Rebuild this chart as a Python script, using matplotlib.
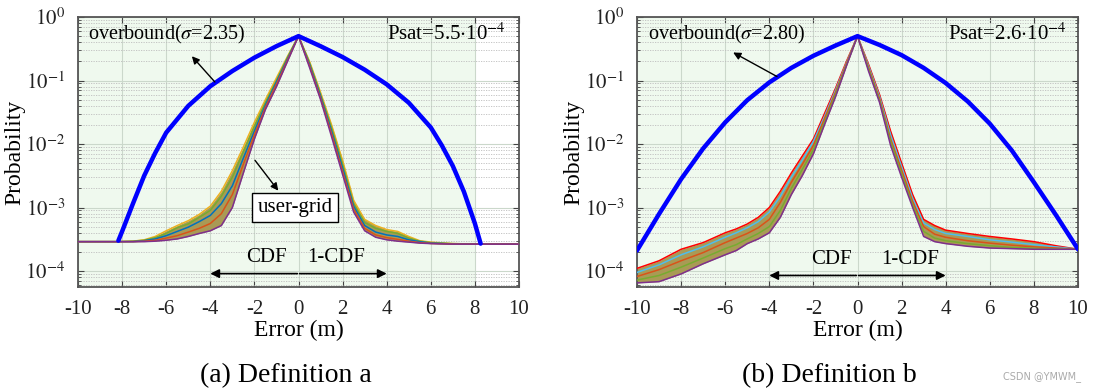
import numpy as np
import matplotlib.pyplot as plt

plt.rcParams['font.family'] = ['Liberation Serif', 'DejaVu Serif']
plt.rcParams['mathtext.fontset'] = 'stix'

# ---------------- data ----------------
# (a) Definition a : overbound (blue)
ob_a_x = [-8.17, -8, -7.5, -7, -6.5, -6, -5, -4, -3, -2, -1, 0,
          1, 2, 3, 4, 5, 6, 6.5, 7, 7.5, 8, 8.26]
ob_a_y = [3.0e-4, 4.2e-4, 1.17e-3, 3.16e-3, 7.2e-3, 0.0151, 0.0398, 0.0813, 0.141, 0.229, 0.347, 0.5,
          0.347, 0.234, 0.148, 0.087, 0.0447, 0.0182, 9.5e-3, 4.5e-3, 1.78e-3, 5.6e-4, 2.7e-4]

# (a) user-grid curves
ug_a_x = [-10, -8.2, -7.5, -7, -6.5, -6, -5.5, -5, -4.5, -4, -3.5, -3, -2.5, -2, -1.5, -1, -0.5, 0,
          0.5, 1, 1.5, 2, 2.5, 3, 3.5, 4, 4.5, 5, 5.5, 6, 7, 8.3, 10]
ug_a_1 = [2.9e-4, 2.9e-4, 2.95e-4, 3.1e-4, 3.5e-4, 4.3e-4, 5.2e-4, 6.2e-4, 7.8e-4, 1.05e-3, 1.8e-3, 3.8e-3, 9e-3, 0.022, 0.05, 0.11, 0.24, 0.5,
          0.2, 0.065, 0.02, 5.5e-3, 1.3e-3, 6.5e-4, 5.2e-4, 4.5e-4, 4.2e-4, 3.5e-4, 3.0e-4, 2.85e-4, 2.7e-4, 2.65e-4, 2.65e-4]
ug_a_2 = [2.9e-4, 2.9e-4, 2.95e-4, 3.05e-4, 3.35e-4, 3.9e-4, 4.8e-4, 5.5e-4, 7.0e-4, 9.0e-4, 1.5e-3, 3.0e-3, 7.5e-3, 0.019, 0.045, 0.1, 0.23, 0.5,
          0.19, 0.06, 0.018, 4.8e-3, 1.15e-3, 5.8e-4, 4.7e-4, 4.2e-4, 3.9e-4, 3.3e-4, 2.95e-4, 2.8e-4, 2.7e-4, 2.65e-4, 2.65e-4]
ug_a_3 = [2.9e-4, 2.9e-4, 2.9e-4, 3.0e-4, 3.2e-4, 3.6e-4, 4.2e-4, 4.9e-4, 6.0e-4, 7.5e-4, 1.15e-3, 2.2e-3, 6e-3, 0.016, 0.041, 0.095, 0.22, 0.5,
          0.18, 0.057, 0.016, 4.2e-3, 1.05e-3, 5.2e-4, 4.1e-4, 3.7e-4, 3.5e-4, 3.1e-4, 2.9e-4, 2.75e-4, 2.67e-4, 2.65e-4, 2.65e-4]
ug_a_4 = [2.9e-4, 2.9e-4, 2.9e-4, 2.95e-4, 3.05e-4, 3.3e-4, 3.6e-4, 4.1e-4, 4.7e-4, 5.6e-4, 8.0e-4, 1.6e-3, 4.8e-3, 0.014, 0.038, 0.088, 0.21, 0.5,
          0.17, 0.053, 0.0145, 3.7e-3, 9.5e-4, 4.7e-4, 3.7e-4, 3.35e-4, 3.15e-4, 2.95e-4, 2.8e-4, 2.72e-4, 2.66e-4, 2.65e-4, 2.65e-4]
ug_a_5 = [2.9e-4, 2.9e-4, 2.9e-4, 2.9e-4, 2.95e-4, 3.05e-4, 3.2e-4, 3.5e-4, 3.9e-4, 4.3e-4, 5.2e-4, 1.0e-3, 3.5e-3, 0.012, 0.035, 0.08, 0.2, 0.5,
          0.16, 0.05, 0.013, 3.3e-3, 8.5e-4, 4.3e-4, 3.4e-4, 3.1e-4, 2.95e-4, 2.85e-4, 2.75e-4, 2.7e-4, 2.65e-4, 2.65e-4, 2.65e-4]

# (b) Definition b : overbound (blue)
ob_b_x = [-10, -9, -8, -7, -6, -5, -4, -3, -2, -1, 0,
          1, 2, 3, 4, 5, 6, 7, 8, 9, 10]
ob_b_y = [2.1e-4, 7.9e-4, 2.8e-3, 8.5e-3, 0.0219, 0.049, 0.0933, 0.158, 0.245, 0.355, 0.5,
          0.363, 0.251, 0.158, 0.0912, 0.0468, 0.0209, 7.9e-3, 2.5e-3, 7.6e-4, 2.2e-4]

# (b) user-grid curves
ug_b_x = [-10, -9, -8, -7, -6, -5.5, -5, -4.5, -4, -3.5, -3, -2.5, -2, -1.5, -1, -0.5, 0,
          0.5, 1, 1.5, 2, 2.5, 3, 3.5, 4, 5, 6, 7, 8, 9, 10]
ug_b_1 = [1.1e-4, 1.45e-4, 2.2e-4, 2.8e-4, 4.0e-4, 4.6e-4, 5.5e-4, 7.0e-4, 1.0e-3, 1.8e-3, 3.5e-3, 6.5e-3, 0.012, 0.03, 0.075, 0.2, 0.5,
          0.18, 0.06, 0.016, 5e-3, 1.6e-3, 6.5e-4, 5.2e-4, 4.4e-4, 3.9e-4, 3.5e-4, 3.2e-4, 2.9e-4, 2.5e-4, 2.2e-4]
ug_b_2 = [9.5e-5, 1.25e-4, 1.8e-4, 2.4e-4, 3.4e-4, 4.0e-4, 4.8e-4, 6.0e-4, 8.5e-4, 1.5e-3, 3.0e-3, 5.6e-3, 0.011, 0.027, 0.07, 0.19, 0.5,
          0.17, 0.056, 0.014, 4.4e-3, 1.4e-3, 5.7e-4, 4.5e-4, 3.9e-4, 3.5e-4, 3.1e-4, 2.85e-4, 2.6e-4, 2.4e-4, 2.2e-4]
ug_b_3 = [8.2e-5, 1.05e-4, 1.45e-4, 1.95e-4, 2.8e-4, 3.3e-4, 3.9e-4, 4.8e-4, 6.5e-4, 1.2e-3, 2.5e-3, 4.8e-3, 9.5e-3, 0.025, 0.065, 0.185, 0.5,
          0.16, 0.052, 0.012, 3.9e-3, 1.25e-3, 5.0e-4, 3.8e-4, 3.4e-4, 3.0e-4, 2.75e-4, 2.55e-4, 2.4e-4, 2.3e-4, 2.2e-4]
ug_b_4 = [7.2e-5, 8.5e-5, 1.15e-4, 1.6e-4, 2.25e-4, 2.6e-4, 3.2e-4, 3.9e-4, 5.0e-4, 9.0e-4, 2.0e-3, 4.0e-3, 8.2e-3, 0.022, 0.06, 0.175, 0.5,
          0.15, 0.048, 0.011, 3.4e-3, 1.1e-3, 4.2e-4, 3.3e-4, 3.0e-4, 2.7e-4, 2.5e-4, 2.35e-4, 2.28e-4, 2.22e-4, 2.2e-4]
ug_b_5 = [6.5e-5, 6.8e-5, 9.0e-5, 1.3e-4, 1.8e-4, 2.1e-4, 2.7e-4, 3.2e-4, 4.0e-4, 7.0e-4, 1.6e-3, 3.2e-3, 7e-3, 0.02, 0.055, 0.17, 0.5,
          0.14, 0.045, 0.0095, 3e-3, 1e-3, 3.5e-4, 2.9e-4, 2.7e-4, 2.45e-4, 2.3e-4, 2.25e-4, 2.2e-4, 2.2e-4, 2.2e-4]

xticks = [-10, -8, -6, -4, -2, 0, 2, 4, 6, 8, 10]
yticks = [1e-4, 1e-3, 1e-2, 1e-1, 1]
ylabels = ['$10^{-4}$', '$10^{-3}$', '$10^{-2}$', '$10^{-1}$', '$10^{0}$']

ug_cols_a = ['#EDB120', '#77AC30', '#0072BD', '#D95319', '#7E2F8E']
ug_cols_b = ['#FF0000', '#4DBEEE', '#D95319', '#77AC30', '#7E2F8E']

panels = [
    dict(ob_x=ob_a_x, ob_y=ob_a_y, ug_x=ug_a_x, ug=[ug_a_1, ug_a_2, ug_a_3, ug_a_4, ug_a_5], cols=ug_cols_a,
         green=8.05, sig='2.35', psat='5.5', ob_arrow=((-3.71, 0.088), (-4.92, 0.26)),
         ob_text=-9.55, psat_x=9.41, ug_arrow=((-2.05, 6.0e-3), (-0.84, 1.7e-3)), ug_box=(-0.15, 1.0e-3),
         cdf_x=-1.45, icdf_x=1.7, arr_y=9.1e-5, cap='(a) Definition a', cap_x=286),
    dict(ob_x=ob_b_x, ob_y=ob_b_y, ug_x=ug_b_x, ug=[ug_b_1, ug_b_2, ug_b_3, ug_b_4, ug_b_5], cols=ug_cols_b,
         green=10, sig='2.80', psat='2.6', ob_arrow=((-3.54, 0.11), (-5.75, 0.29)),
         ob_text=-9.5, psat_x=9.49, ug_arrow=None, ug_box=None,
         cdf_x=-1.2, icdf_x=2.4, arr_y=8.5e-5, cap='(b) Definition b', cap_x=829),
]

W, H = 1097, 392
fig = plt.figure(figsize=(W / 100, H / 100), dpi=100)
lefts = [78, 637]

for p, left in zip(panels, lefts):
    ax = fig.add_axes([left / W, 1 - 287 / H, 441 / W, 270 / H])
    ax.set_yscale('log')
    ax.set_xlim(-10, 10)
    ax.set_ylim(5.6e-5, 1)
    ax.axvspan(-10, p['green'], color='#eff9ee', zorder=0, lw=0)

    ax.set_xticks(xticks)
    ax.set_xticklabels([str(t) for t in xticks])
    ax.set_yticks(yticks)
    ax.set_yticklabels(ylabels)
    ax.grid(True, which='major', color='#cbd8cb', lw=0.8, zorder=1)
    ax.grid(True, which='minor', axis='y', color='#bdbdbd', lw=0.6, ls=(0, (1.5, 1.5)), zorder=1)
    ax.tick_params(which='both', direction='in', top=True, right=True, labelsize=15,
                   colors='#444444', labelcolor='#222222')
    ax.tick_params(which='major', length=4, pad=9)
    ax.tick_params(which='minor', length=2)
    for s in ax.spines.values():
        s.set_color('#555555')
        s.set_linewidth(1.3)

    # user-grid bundle
    ax.fill_between(p['ug_x'], p['ug'][0], p['ug'][-1], color='#a99a55', lw=0, zorder=2)
    for y, c in zip(p['ug'], p['cols']):
        ax.plot(p['ug_x'], y, color=c, lw=1.1, zorder=3)

    # overbound
    ax.plot(p['ob_x'], p['ob_y'], color='#0000ff', lw=3.2, zorder=4, solid_capstyle='round')

    ax.text(p['ob_text'], 0.53, 'overbound($\\sigma$=' + p['sig'] + ')',
            fontsize=14.5, va='center', ha='left', zorder=6)
    ax.annotate('', xy=p['ob_arrow'][1], xytext=p['ob_arrow'][0],
                arrowprops=dict(arrowstyle='-|>', color='black', lw=1.0, mutation_scale=11), zorder=6)
    ax.text(p['psat_x'], 0.53, 'Psat=' + p['psat'] + '$\\cdot$10$^{-4}$', fontsize=15,
            va='center', ha='right', zorder=6)

    if p['ug_arrow'] is not None:
        ax.annotate('', xy=p['ug_arrow'][1], xytext=p['ug_arrow'][0],
                    arrowprops=dict(arrowstyle='-|>', color='black', lw=1.0, mutation_scale=11), zorder=6)
        ax.text(p['ug_box'][0], p['ug_box'][1], 'user-grid', fontsize=15, ha='center', va='center', zorder=6,
                bbox=dict(boxstyle='square,pad=0.25', fc='white', ec='black', lw=1.0))

    ax.annotate('', xy=(-4, p['arr_y']), xytext=(-0.05, p['arr_y']),
                arrowprops=dict(arrowstyle='-|>', color='black', lw=1.2, mutation_scale=13,
                                shrinkA=0, shrinkB=0), zorder=6)
    ax.annotate('', xy=(4, p['arr_y']), xytext=(0.05, p['arr_y']),
                arrowprops=dict(arrowstyle='-|>', color='black', lw=1.2, mutation_scale=13,
                                shrinkA=0, shrinkB=0), zorder=6)
    ax.text(p['cdf_x'], p['arr_y'] * 1.25, 'CDF', fontsize=15, ha='center', va='bottom', zorder=6)
    ax.text(p['icdf_x'], p['arr_y'] * 1.25, '1-CDF', fontsize=15, ha='center', va='bottom', zorder=6)

    ax.set_xlabel('Error (m)', fontsize=17, labelpad=1)
    ax.set_ylabel('Probability', fontsize=17, labelpad=0)

    fig.text(p['cap_x'] / W, 1 - 376 / H, p['cap'], fontsize=20, ha='center', va='center')

fig.text(1081 / W, 1 - 377 / H, 'CSDN @YMWM_', fontsize=7, color='#aaaaaa', ha='right', va='center',
         family='DejaVu Sans')

fig.savefig('out.png', dpi=100)
